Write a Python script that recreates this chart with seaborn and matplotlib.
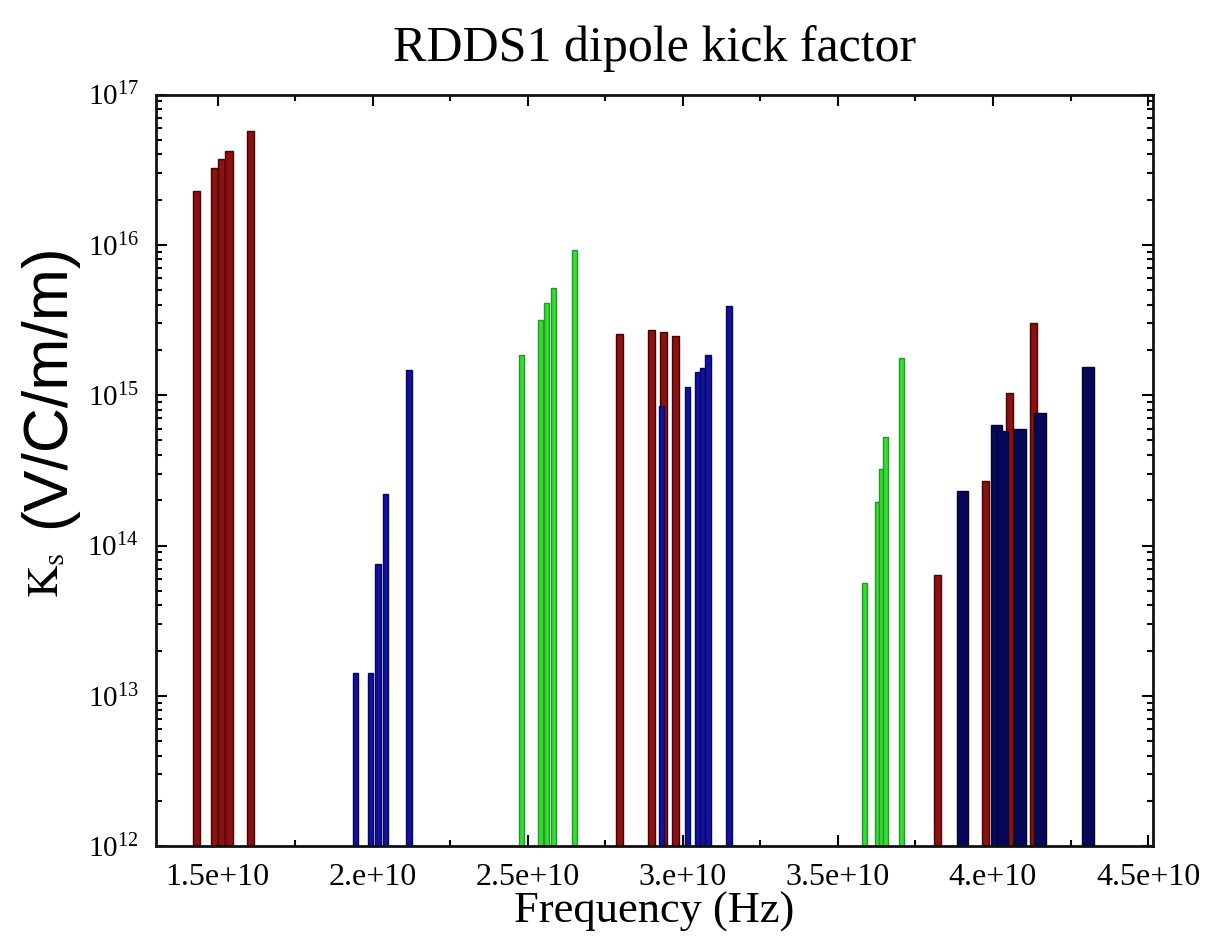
import numpy as np
import matplotlib
matplotlib.use("Agg")
import matplotlib.pyplot as plt
from matplotlib.ticker import MultipleLocator, LogLocator, FixedLocator, FixedFormatter, NullFormatter
import seaborn as sns

# frequencies in units of 1e10 Hz, kick factors in V/C/m/m
green_freq = [2.480, 2.541, 2.560, 2.584, 2.652, 3.587, 3.626, 3.639, 3.653, 3.705]
green_ks = [1.84e15, 3.18e15, 4.1e15, 5.15e15, 9.3e15, 5.6e13, 1.94e14, 3.24e14, 5.3e14, 1.77e15]

red_freq = [1.431, 1.490, 1.512, 1.537, 1.606, 2.795, 2.899, 2.937, 2.976, 3.822, 3.977, 4.052, 4.132]
red_ks = [2.28e16, 3.27e16, 3.71e16, 4.24e16, 5.7e16, 2.54e15, 2.72e15, 2.63e15, 2.46e15,
          6.4e13, 2.7e14, 1.03e15, 3.02e15]

blue_freq = [1.945, 1.993, 2.018, 2.042, 2.117, 2.931, 3.015, 3.049, 3.063, 3.082, 3.148]
blue_ks = [1.41e13, 1.41e13, 7.55e13, 2.21e14, 1.46e15, 8.45e14, 1.13e15, 1.42e15, 1.51e15,
           1.84e15, 3.9e15]

navy_freq = [3.902, 4.012, 4.031, 4.087, 4.152, 4.307]
navy_ks = [2.29e14, 6.3e14, 5.8e14, 6.0e14, 7.6e14, 1.55e15]

xtick_vals = [1.5, 2.0, 2.5, 3.0, 3.5, 4.0, 4.5]
xtick_labels = ["1.5e+10", "2.e+10", "2.5e+10", "3.e+10", "3.5e+10", "4.e+10", "4.5e+10"]

#*************************** style *************************
sns.set_style("ticks")
plt.rcParams["font.family"] = ["Liberation Serif", "DejaVu Serif"]
plt.rcParams["mathtext.fontset"] = "stix"
plt.rcParams["text.color"] = "black"
plt.rcParams["axes.labelcolor"] = "black"
plt.rcParams["xtick.color"] = "black"
plt.rcParams["ytick.color"] = "black"

fig = plt.figure(figsize=(12.15, 9.36), dpi=100)
ax = fig.add_axes([0.128, 0.096, 0.821, 0.803])

base = 1e12
series = [
    (green_freq, green_ks, 0.016, "#36dc36", "#229922"),
    (red_freq, red_ks, 0.023, "#8a1212", "#4a0000"),
    (blue_freq, blue_ks, 0.018, "#1212a0", "#05055a"),
    (navy_freq, navy_ks, 0.037, "#08085a", "#000030"),
]
for freq, ks, w, fc, ec in series:
    f = np.array(freq) * 1e10
    k = np.array(ks)
    ax.bar(f, k - base, bottom=base, width=w * 1e10, color=fc, edgecolor=ec,
           linewidth=1.0, align="center")

ax.set_yscale("log")
ax.set_xlim(1.30e10, 4.516e10)
ax.set_ylim(1e12, 1e17)

ax.xaxis.set_major_locator(FixedLocator([v * 1e10 for v in xtick_vals]))
ax.xaxis.set_major_formatter(FixedFormatter(xtick_labels))
ax.xaxis.set_minor_locator(MultipleLocator(0.25e10))
ax.yaxis.set_major_locator(LogLocator(base=10, numticks=10))
ax.yaxis.set_minor_locator(LogLocator(base=10, subs=np.arange(2, 10), numticks=20))
ax.yaxis.set_minor_formatter(NullFormatter())

ax.tick_params(which="both", direction="in", top=True, right=True, width=1.5, color="black")
ax.tick_params(which="major", length=8)
ax.tick_params(which="minor", length=4)
ax.tick_params(axis="x", labelsize=23, pad=12)
ax.tick_params(axis="y", labelsize=21, pad=12)
for s in ax.spines.values():
    s.set_linewidth(2.0)
    s.set_color("#111111")

ax.set_title("RDDS1 dipole kick factor", fontsize=36, pad=24)
ax.set_xlabel("Frequency (Hz)", fontsize=32, labelpad=0)

fig.text(0.039, 0.588, "(V/C/m/m)", rotation=90, ha="center", va="center",
         fontsize=45, family=["Liberation Sans", "DejaVu Sans"])
fig.text(0.039, 0.385, r"$\mathrm{K}_{\mathrm{s}}$", rotation=90, ha="center", va="center",
         fontsize=32)

fig.savefig("out.png", dpi=100)
